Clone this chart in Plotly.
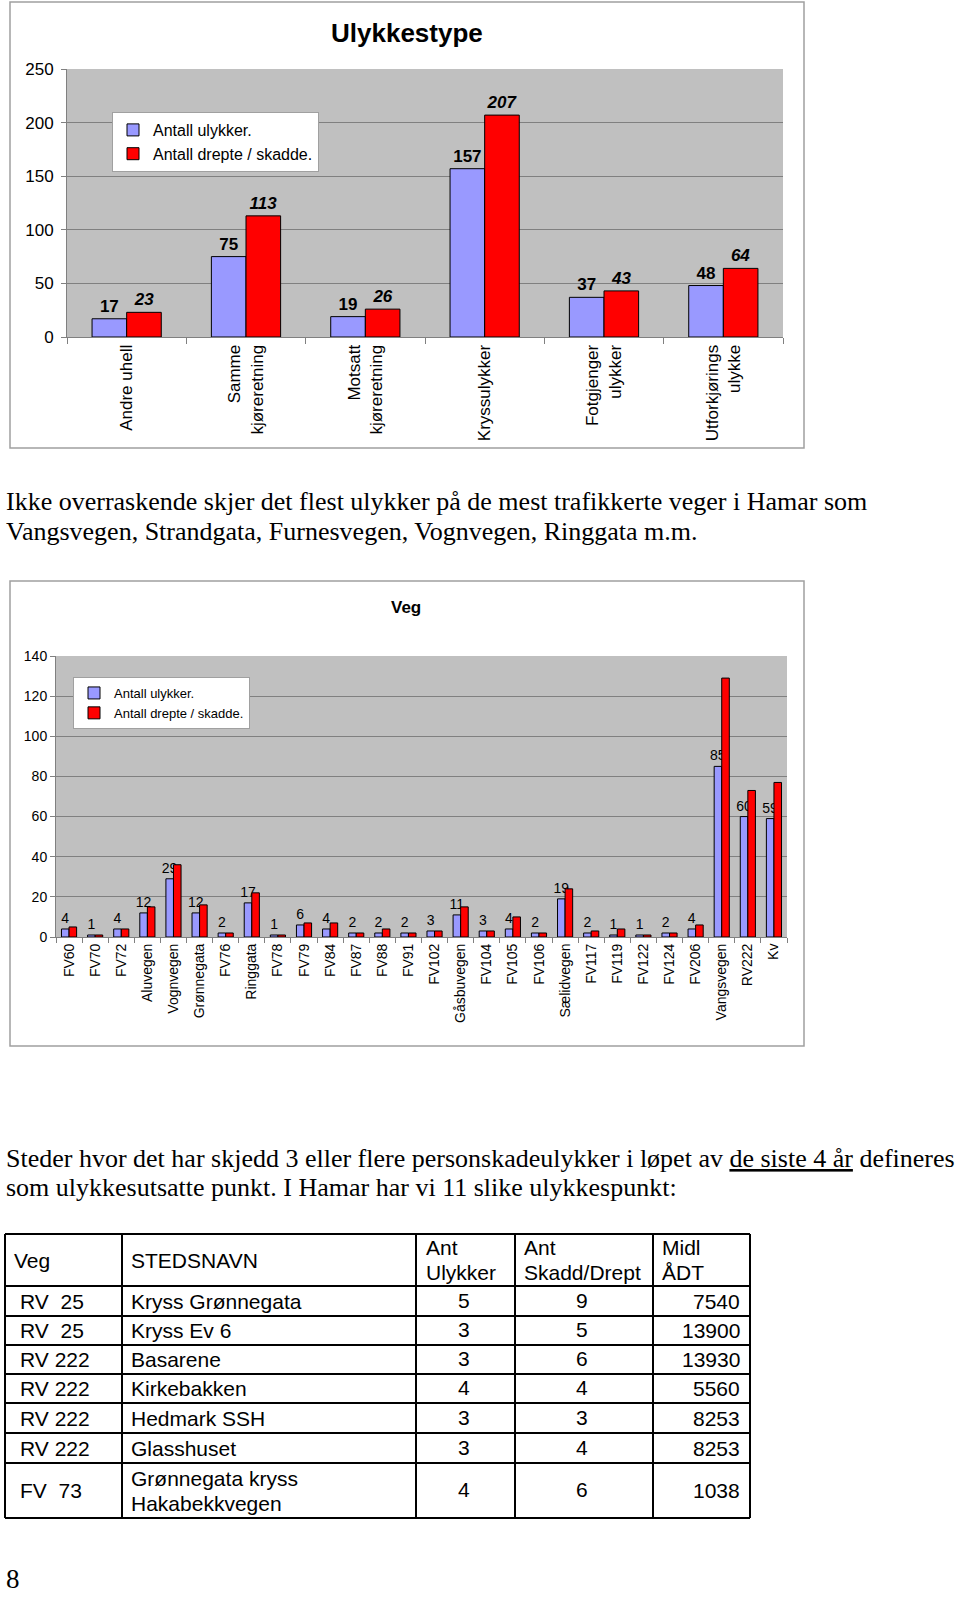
import plotly.graph_objects as go

W, H = 960, 1597

# ---------------- data ----------------
series_names = ["Antall ulykker.", "Antall drepte / skadde."]

types = ["Andre uhell", "Samme<br>kjøreretning", "Motsatt<br>kjøreretning",
         "Kryssulykker", "Fotgjenger<br>ulykker", "Utforkjørings<br>ulykke"]
type_ulykker = [17, 75, 19, 157, 37, 48]
type_skadde = [23, 113, 26, 207, 43, 64]

veger = ["FV60", "FV70", "FV72", "Aluvegen", "Vognvegen", "Grønnegata", "FV76",
         "Ringgata", "FV78", "FV79", "FV84", "FV87", "FV88", "FV91", "FV102",
         "Gåsbuvegen", "FV104", "FV105", "FV106", "Sælidvegen", "FV117", "FV119",
         "FV122", "FV124", "FV206", "Vangsvegen", "RV222", "Kv"]
veg_ulykker = [4, 1, 4, 12, 29, 12, 2, 17, 1, 6, 4, 2, 2, 2, 3, 11, 3, 4, 2, 19,
               2, 1, 1, 2, 4, 85, 60, 59]
veg_skadde = [5, 1, 4, 15, 36, 16, 2, 22, 1, 7, 7, 2, 4, 2, 3, 15, 3, 10, 2, 24,
              3, 4, 1, 2, 6, 129, 73, 77]

table_header = ["Veg", "STEDSNAVN", "Ant<br>Ulykker", "Ant<br>Skadd/Drept", "Midl<br>ÅDT"]
table_veg = ["RV\u00a0\u00a025", "RV\u00a0\u00a025", "RV 222", "RV 222", "RV 222", "RV 222", "FV\u00a0\u00a073"]
table_sted = ["Kryss Grønnegata", "Kryss Ev 6", "Basarene", "Kirkebakken",
              "Hedmark SSH", "Glasshuset", "Grønnegata kryss<br>Hakabekkvegen"]
table_ulykker = [5, 3, 3, 4, 3, 3, 4]
table_skadd = [9, 5, 6, 4, 3, 4, 6]
table_adt = [7540, 13900, 13930, 5560, 8253, 8253, 1038]

para1 = ["Ikke overraskende skjer det flest ulykker på de mest trafikkerte veger i Hamar som",
         "Vangsvegen, Strandgata, Furnesvegen, Vognvegen, Ringgata m.m."]
para2 = ["Steder hvor det har skjedd 3 eller flere personskadeulykker i løpet av <u>de siste 4 år</u> defineres",
         "som ulykkesutsatte punkt. I Hamar har vi 11 slike ulykkespunkt:"]

# ---------------- styling ----------------
SANS = "Liberation Sans, Arial, sans-serif"
SERIF = "Liberation Serif, Times New Roman, serif"
BLUE = "#9999FF"
RED = "#FF0000"
GRID = "#808080"


def px(x):
    return x / W


def py(y):
    return 1 - y / H


fig = go.Figure()

# chart 1
fig.add_trace(go.Bar(x=types, y=type_ulykker, name=series_names[0],
                     marker=dict(color=BLUE, line=dict(color="black", width=1)),
                     text=type_ulykker, textposition="outside", constraintext="none",
                     cliponaxis=False,
                     textfont=dict(family=SANS, size=17, color="black", weight="bold"),
                     xaxis="x", yaxis="y", legend="legend"))
fig.add_trace(go.Bar(x=types, y=type_skadde, name=series_names[1],
                     marker=dict(color=RED, line=dict(color="black", width=1)),
                     text=type_skadde, textposition="outside", constraintext="none",
                     cliponaxis=False,
                     textfont=dict(family=SANS, size=17, color="black", weight="bold", style="italic"),
                     xaxis="x", yaxis="y", legend="legend"))

# chart 2
fig.add_trace(go.Bar(x=veger, y=veg_ulykker, name=series_names[0],
                     marker=dict(color=BLUE, line=dict(color="black", width=1)),
                     text=veg_ulykker, textposition="outside", constraintext="none",
                     cliponaxis=False,
                     textfont=dict(family=SANS, size=14, color="black"),
                     xaxis="x2", yaxis="y2", legend="legend2"))
fig.add_trace(go.Bar(x=veger, y=veg_skadde, name=series_names[1],
                     marker=dict(color=RED, line=dict(color="black", width=1)),
                     xaxis="x2", yaxis="y2", legend="legend2"))

axis_common = dict(showline=True, linecolor=GRID, linewidth=1, ticks="outside",
                   tickcolor=GRID, color="black", automargin=False)

fig.update_layout(
    template="none",
    width=W, height=H, autosize=False,
    margin=dict(l=0, r=0, t=0, b=0, pad=0, autoexpand=False),
    paper_bgcolor="white", plot_bgcolor="#C0C0C0",
    barmode="group", bargap=0.42, bargroupgap=0,
    font=dict(family=SANS, color="black"),
    xaxis=dict(domain=[px(67), px(783)], anchor="y", tickangle=-90,
               tickson="boundaries", ticklen=6, tickfont=dict(size=17),
               showgrid=False, **axis_common),
    yaxis=dict(domain=[py(337), py(69)], anchor="x", range=[0, 250], dtick=50,
               ticklen=5, ticklabelstandoff=4, tickfont=dict(size=17), showgrid=True,
               gridcolor=GRID, gridwidth=1, zeroline=False, **axis_common),
    xaxis2=dict(domain=[px(56), px(787)], anchor="y2", tickangle=-90,
                tickson="boundaries", ticklen=5, tickfont=dict(size=14),
                showgrid=False, **axis_common),
    yaxis2=dict(domain=[py(937), py(656)], anchor="x2", range=[0, 140], dtick=20,
                ticklen=5, tickfont=dict(size=14), showgrid=True, gridcolor=GRID,
                gridwidth=1, zeroline=False, **axis_common),
    legend=dict(x=px(112), y=py(112), xanchor="left", yanchor="top",
                bgcolor="white", bordercolor="#A0A0A0", borderwidth=1,
                itemwidth=30, font=dict(family=SANS, size=16)),
    legend2=dict(x=px(73), y=py(677), xanchor="left", yanchor="top",
                 bgcolor="white", bordercolor="#A0A0A0", borderwidth=1,
                 itemwidth=30, font=dict(family=SANS, size=13)),
)

shapes = []
annotations = []

# chart frames
for (x0, y0, x1, y1) in [(10, 2, 804, 448), (10, 581, 804, 1046)]:
    shapes.append(dict(type="rect", xref="paper", yref="paper",
                       x0=px(x0), x1=px(x1), y0=py(y0), y1=py(y1),
                       line=dict(color="#A0A0A0", width=1.5), layer="below"))

# chart titles
annotations.append(dict(text="<b>Ulykkestype</b>", x=px(407), y=py(33), xref="paper", yref="paper",
                        showarrow=False, xanchor="center", yanchor="middle",
                        font=dict(family=SANS, size=26, color="black")))
annotations.append(dict(text="<b>Veg</b>", x=px(406), y=py(607), xref="paper", yref="paper",
                        showarrow=False, xanchor="center", yanchor="middle",
                        font=dict(family=SANS, size=17, color="black")))

# paragraphs
for i, line in enumerate(para1):
    annotations.append(dict(text=line, x=px(4), y=py(501 + 30 * i), xref="paper", yref="paper",
                            showarrow=False, xanchor="left", yanchor="middle",
                            font=dict(family=SERIF, size=26, color="black")))
for i, line in enumerate(para2):
    annotations.append(dict(text=line, x=px(4), y=py(1158 + 29.5 * i), xref="paper", yref="paper",
                            showarrow=False, xanchor="left", yanchor="middle",
                            font=dict(family=SERIF, size=26, color="black")))

# table
col_x = [5, 122, 416, 515, 653, 750]
row_y = [1234, 1286, 1316, 1345, 1374, 1403, 1433, 1463, 1518]
for x in col_x:
    shapes.append(dict(type="line", xref="paper", yref="paper", x0=px(x), x1=px(x),
                       y0=py(row_y[0]), y1=py(row_y[-1]), line=dict(color="black", width=2)))
for y in row_y:
    shapes.append(dict(type="line", xref="paper", yref="paper", x0=px(col_x[0]), x1=px(col_x[-1]),
                       y0=py(y), y1=py(y), line=dict(color="black", width=2)))

TFONT = dict(family=SANS, size=21, color="black")


def cell_text(text, x, y, anchor="left"):
    annotations.append(dict(text=text, x=px(x), y=py(y), xref="paper", yref="paper",
                            showarrow=False, xanchor=anchor, yanchor="middle", font=TFONT))


def multi(text, x, yc, anchor="left", gap=25):
    lines = text.split("<br>")
    n = len(lines)
    for k, ln in enumerate(lines):
        cell_text(ln, x, yc + (k - (n - 1) / 2) * gap, anchor)


hdr_c = (row_y[0] + row_y[1]) / 2
hdr_x = [12, 129, 424, 522, 660]
for h, x in zip(table_header, hdr_x):
    multi(h, x, hdr_c)

for r in range(len(table_veg)):
    yc = (row_y[r + 1] + row_y[r + 2]) / 2
    cell_text(table_veg[r], 18, yc)
    multi(table_sted[r], 129, yc)
    cell_text(str(table_ulykker[r]), (col_x[2] + col_x[3]) / 2 - 2, yc - 1, "center")
    cell_text(str(table_skadd[r]), (col_x[3] + col_x[4]) / 2 - 2, yc - 1, "center")
    cell_text(str(table_adt[r]), 742, yc, "right")

# page number (kept fully inside the page)
annotations.append(dict(text="8", x=px(4), y=py(1596), xref="paper", yref="paper",
                        showarrow=False, xanchor="left", yanchor="bottom",
                        font=dict(family=SERIF, size=27, color="black")))

fig.update_layout(shapes=shapes, annotations=annotations)
fig.write_html("out.html")
